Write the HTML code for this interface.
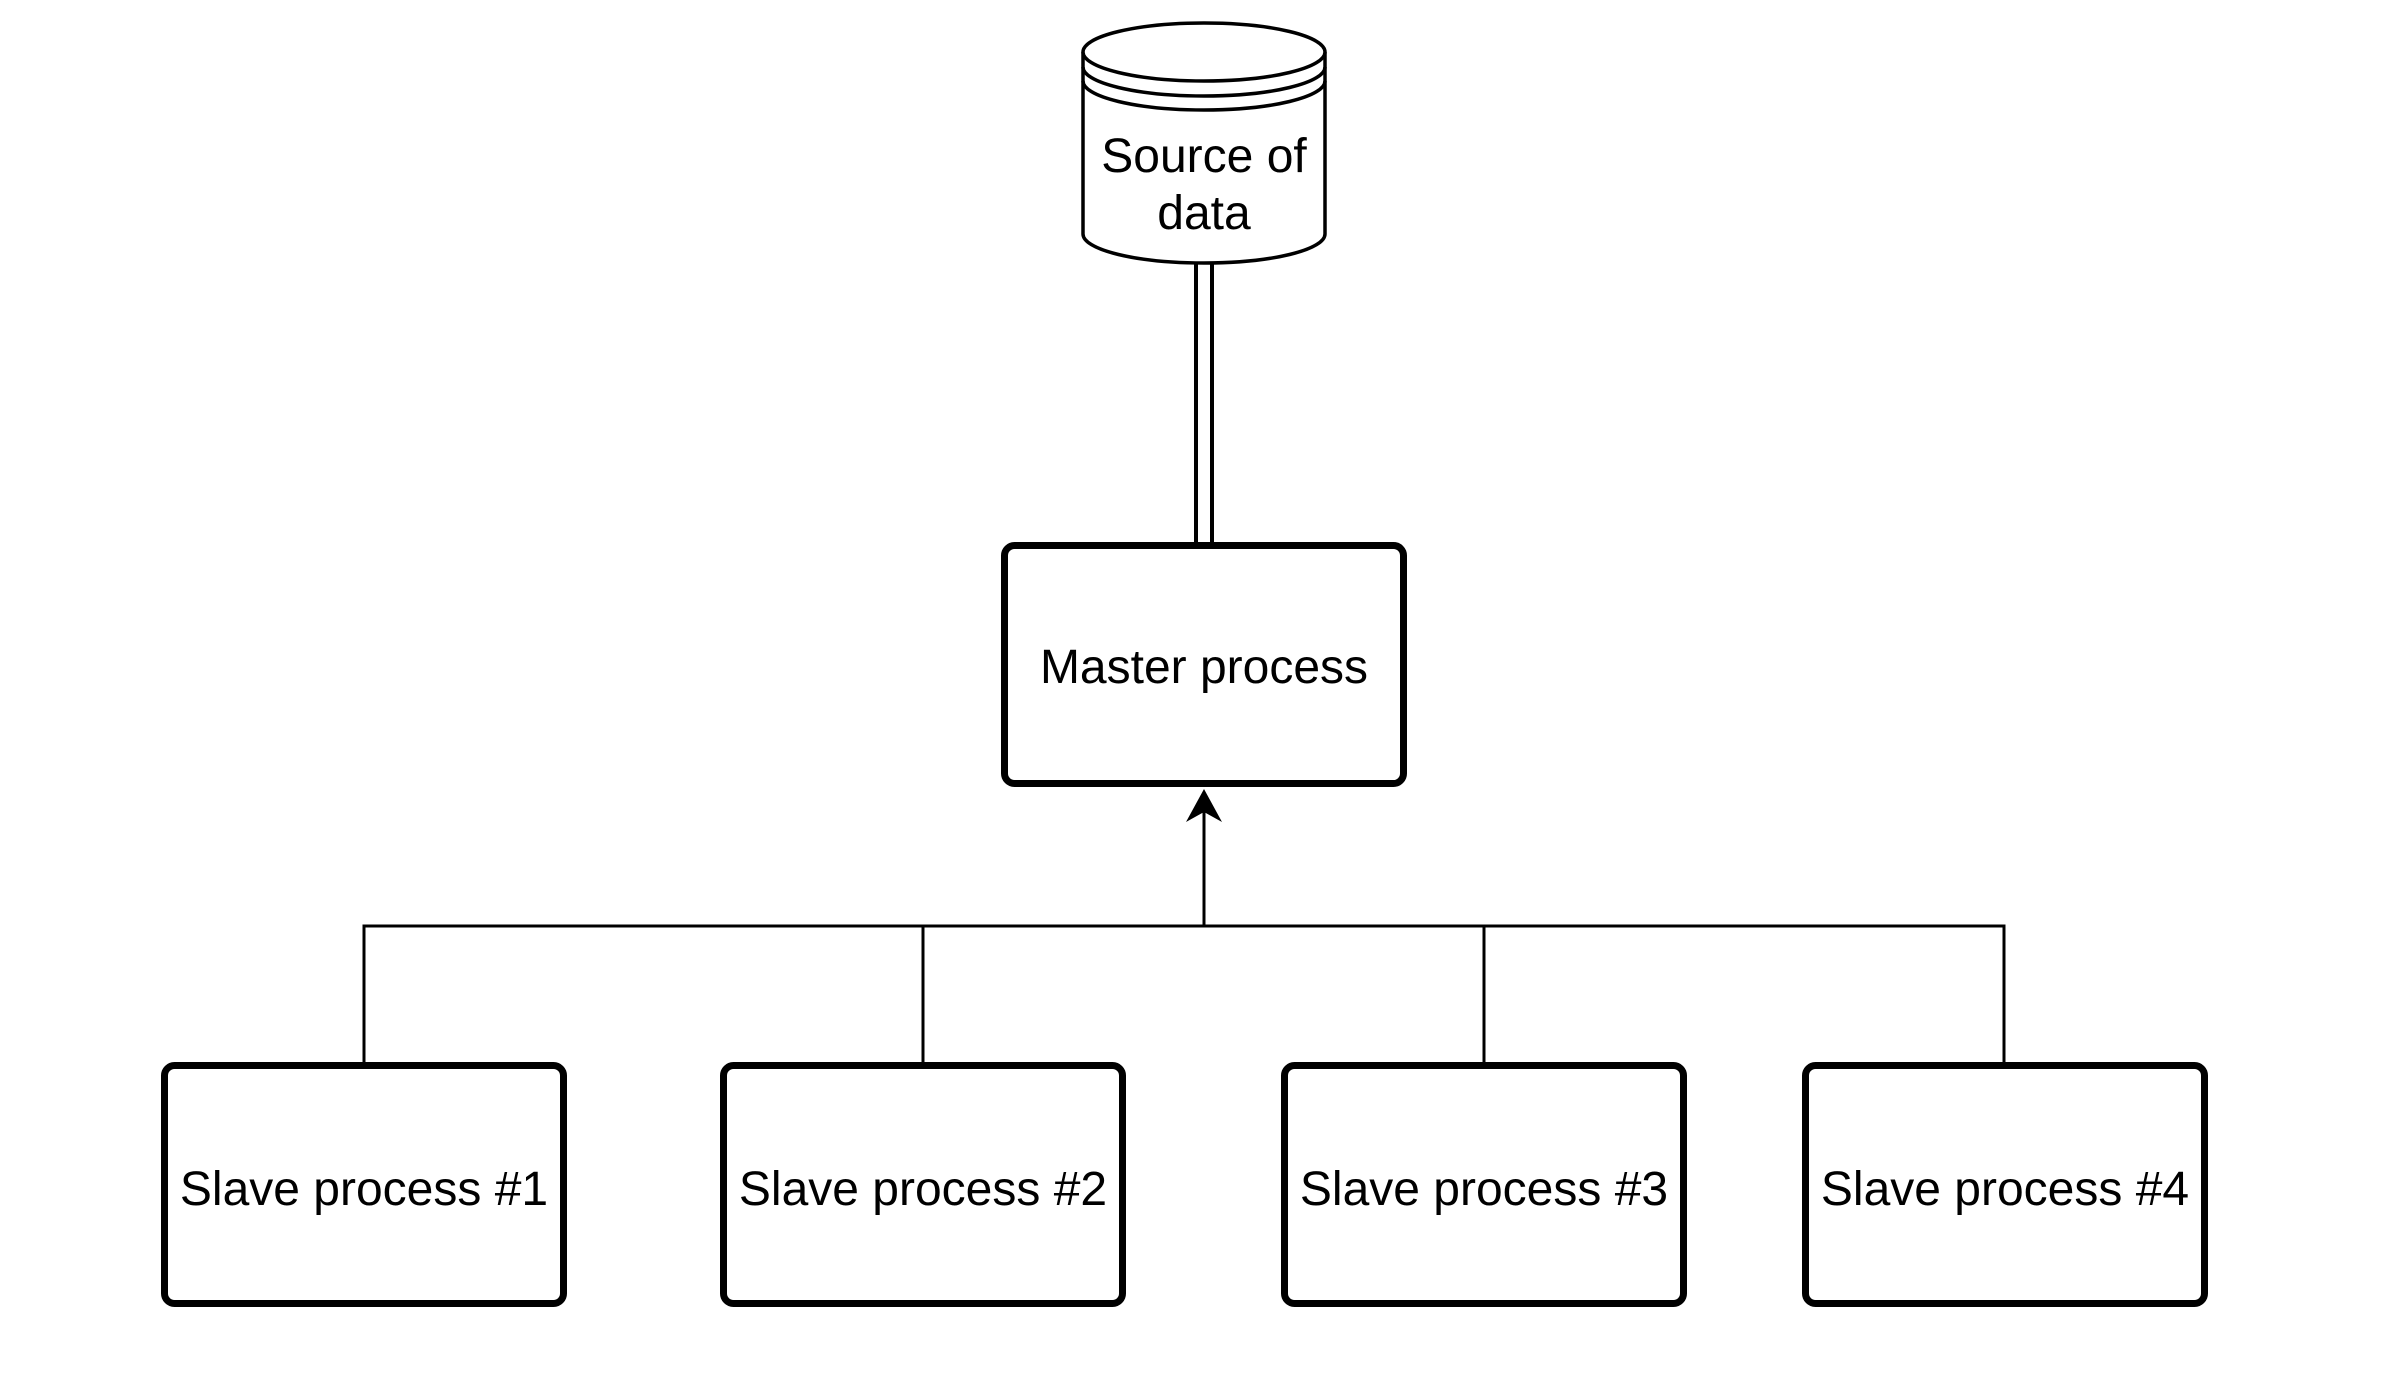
<!DOCTYPE html>
<html><head><style>body{margin:0;background:#fff}svg{display:block}</style></head><body>
<svg width="2394" height="1374" viewBox="0 0 2394 1374" xmlns="http://www.w3.org/2000/svg" font-family="Liberation Sans, Arial, sans-serif" font-size="48" text-anchor="middle">
<rect width="2394" height="1374" fill="#fff"/>
<g fill="#fff" stroke="#000" stroke-width="3.5">
<path d="M1083,52 L1083,234 A121,29 0 0 0 1325,234 L1325,52"/>
<ellipse cx="1204" cy="52" rx="121" ry="29"/>
<path d="M1083,67 A121,29 0 0 0 1325,67" fill="none"/>
<path d="M1083,81 A121,29 0 0 0 1325,81" fill="none"/>
</g>
<text x="1204" y="172">Source of</text>
<text x="1204" y="229">data</text>
<line x1="1196" y1="263" x2="1196" y2="545" stroke="#000" stroke-width="4"/>
<line x1="1212" y1="263" x2="1212" y2="545" stroke="#000" stroke-width="4"/>
<rect x="1004.5" y="545.5" width="399" height="238" rx="10" fill="#fff" stroke="#000" stroke-width="7"/>
<text x="1204" y="683">Master process</text>
<g stroke="#000" stroke-width="3" fill="none">
<polyline points="364,1066 364,926 2004,926 2004,1066"/>
<line x1="923" y1="926" x2="923" y2="1066"/>
<line x1="1484" y1="926" x2="1484" y2="1066"/>
<line x1="1204" y1="926" x2="1204" y2="810"/>
</g>
<path d="M1204,789 L1222,822 L1204,812 L1186,822 Z" fill="#000"/>
<g fill="#fff" stroke="#000" stroke-width="7">
<rect x="164.5" y="1065.5" width="399" height="238" rx="10"/>
<rect x="723.5" y="1065.5" width="399" height="238" rx="10"/>
<rect x="1284.5" y="1065.5" width="399" height="238" rx="10"/>
<rect x="1805.5" y="1065.5" width="399" height="238" rx="10"/>
</g>
<text x="364" y="1205">Slave process #1</text>
<text x="923" y="1205">Slave process #2</text>
<text x="1484" y="1205">Slave process #3</text>
<text x="2005" y="1205">Slave process #4</text>
</svg>
</body></html>
